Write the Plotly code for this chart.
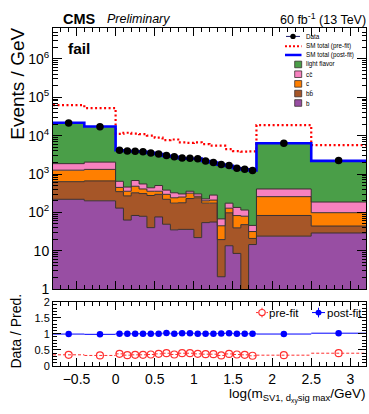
import numpy as np
import plotly.graph_objects as go

# ---- binning (log10 of secondary-vertex mass) ----
edges = [-0.8, -0.4, 0.0, 0.1, 0.2, 0.3, 0.4, 0.5, 0.6, 0.7, 0.8, 0.9,
         1.0, 1.1, 1.2, 1.3, 1.4, 1.5, 1.6, 1.7, 1.8, 2.5, 3.2]

# ---- post-fit flavour templates (events / GeV) ----
b_jets = [219, 200, 129, 63, 83, 79, 40, 76, 49, 35, 36, 36,
          22, 54, 56, 2.1, 13.5, 8.5, 0.5, 14.5, 24, 29]
bb_jets = [412, 461, 218, 206, 241, 230, 235, 219, 170, 139, 142, 193,
           218, 120, 118, 17.4, 84, 31, 47.4, 6.4, 59, 15]
c_jets = [628, 657, 100, 86, 155, 98, 80, 60, 76, 66, 73, 87,
          23, 26, 35, 25.2, 31, 43, 31.5, 10.7, 174, 54]
cc_jets = [603, 724, 199, 102, 197, 143, 82, 146, 85, 84, 51, 39,
           39, 24, 73, 22.9, 45, 52, 35.6, 14.1, 150, 88]
light_jets = [19840, 15260, 3524, 3523, 3214, 3250, 3113, 2809, 2580, 2496, 2278, 2165,
              2208, 1966, 1718, 1692, 1456, 1275, 1205, 1184, 5943, 2014]

# ---- pre-fit SM total and observed data ----
prefit_total = [62300, 52300, 11120, 11880, 11280, 11010, 10000, 8830, 7650, 7940, 6660, 6510,
                6690, 6000, 5480, 5480, 4450, 3970, 3830, 3900, 18860, 5670]
data = [21500, 17000, 4170, 3980, 3890, 3800, 3550, 3310, 3020, 2820, 2630, 2570,
        2510, 2190, 2000, 1780, 1660, 1410, 1320, 1230, 6300, 2240]

y_ticks = [1, 10, 100, 1e3, 1e4, 1e5, 1e6]
y_ticktext = ["1", "10", "10<sup>2</sup>", "10<sup>3</sup>", "10<sup>4</sup>",
              "10<sup>5</sup>", "10<sup>6</sup>"]
ratio_ticks = [0, 0.5, 1, 1.5, 2]
ratio_ticktext = ["0", "0.5", "1", "1.5", "2"]

colors = {"b": "#984ea3", "bb": "#a65628", "c": "#ff7f00", "cc": "#f781bf", "light": "#4a9e48"}
FONT = "Liberation Sans"
W, H = 369, 414


def px(x):
    return x / W


def py(y):
    return 1 - y / H


def step(v):
    v = list(v)
    return v + [v[-1]]


centers = [(lo + hi) / 2 for lo, hi in zip(edges[:-1], edges[1:])]
components = [b_jets, bb_jets, c_jets, cc_jets, light_jets]
stack = np.cumsum(np.array(components, dtype=float), axis=0)
postfit_total = stack[-1]

fig = go.Figure()

# baseline below the visible range so the bottom template fills to the frame
fig.add_trace(go.Scatter(x=edges, y=[1e-3] * len(edges), mode="lines",
                         line=dict(width=0), showlegend=False, hoverinfo="skip"))
for level, key in zip(stack, ["b", "bb", "c", "cc", "light"]):
    fig.add_trace(go.Scatter(x=edges, y=step(level), mode="lines",
                             line=dict(shape="hv", color="#3a3030", width=1),
                             fill="tonexty", fillcolor=colors[key],
                             showlegend=False, hoverinfo="skip"))

fig.add_trace(go.Scatter(x=edges, y=step(prefit_total), mode="lines",
                         line=dict(shape="hv", color="#ff0000", width=2.2, dash="2px,2.5px"),
                         showlegend=False))
fig.add_trace(go.Scatter(x=edges, y=step(postfit_total), mode="lines",
                         line=dict(shape="hv", color="#0000ff", width=2.6),
                         showlegend=False))
fig.add_trace(go.Scatter(x=centers, y=data, mode="markers",
                         marker=dict(color="black", size=7.5),
                         showlegend=False))

# ---- ratio panel ----
r_pre = np.array(data) / np.array(prefit_total)
r_post = np.array(data) / postfit_total


def segments(vals):
    xs, ys = [], []
    for lo, hi, v in zip(edges[:-1], edges[1:], vals):
        xs += [lo, hi, None]
        ys += [v, v, None]
    return xs, ys


sx, sy = segments(r_pre)
fig.add_trace(go.Scatter(x=sx, y=sy, mode="lines", xaxis="x2", yaxis="y2",
                         line=dict(color="#ff3030", width=1, dash="3px,2px"), showlegend=False))
sx, sy = segments(r_post)
fig.add_trace(go.Scatter(x=sx, y=sy, mode="lines", xaxis="x2", yaxis="y2",
                         line=dict(color="#0000ff", width=1), showlegend=False))
fig.add_trace(go.Scatter(x=centers, y=r_pre, mode="markers", xaxis="x2", yaxis="y2",
                         marker=dict(symbol="circle-open", color="#ff3030", size=7,
                                     line=dict(width=1.2)), showlegend=False))
fig.add_trace(go.Scatter(x=centers, y=r_post, mode="markers", xaxis="x2", yaxis="y2",
                         marker=dict(color="#0000ff", size=6.5), showlegend=False))

xdom = [px(53), px(366)]
axis_common = dict(showline=True, linecolor="black", linewidth=1, mirror="allticks",
                   ticks="inside", tickcolor="black", showgrid=False, zeroline=False)
log_minor = [m * 10 ** k for k in range(0, 7) for m in range(2, 10)]

fig.update_layout(
    width=W, height=H, margin=dict(l=0, r=0, t=0, b=0),
    paper_bgcolor="white", plot_bgcolor="white",
    font=dict(family=FONT, color="black"),
    xaxis=dict(domain=xdom, anchor="y", range=[-0.8, 3.2], showticklabels=False,
               tick0=0, dtick=0.5, ticklen=8,
               minor=dict(ticks="inside", ticklen=4, dtick=0.1, tick0=0, tickcolor="black"),
               **axis_common),
    yaxis=dict(domain=[py(293), py(23)], anchor="x", type="log", range=[0, 6.8],
               tickmode="array", tickvals=y_ticks, ticktext=y_ticktext, ticklen=9,
               tickfont=dict(size=14),
               minor=dict(ticks="inside", ticklen=4.5, tickvals=log_minor, tickcolor="black"),
               **axis_common),
    xaxis2=dict(domain=xdom, anchor="y2", range=[-0.8, 3.2], tick0=0, dtick=0.5, ticklen=8,
                tickfont=dict(size=14),
                minor=dict(ticks="inside", ticklen=4, dtick=0.1, tick0=0, tickcolor="black"),
                **axis_common),
    yaxis2=dict(domain=[py(372.5), py(306)], anchor="x2", range=[0, 2],
                tickmode="array", tickvals=ratio_ticks, ticktext=ratio_ticktext, ticklen=8,
                tickfont=dict(size=11),
                minor=dict(ticks="inside", ticklen=4, dtick=0.1, tick0=0, tickcolor="black"),
                **axis_common),
)

ann = []


def text(x, y, s, size, xanchor="left", yanchor="middle", angle=0):
    ann.append(dict(x=px(x), y=py(y), xref="paper", yref="paper", text=s, showarrow=False,
                    xanchor=xanchor, yanchor=yanchor, textangle=angle, borderpad=0,
                    font=dict(family=FONT, size=size, color="black")))


text(62, 13, "<b>CMS</b>", 14.5)
text(106, 13.5, "<i>Preliminary</i>", 12.5)
text(367, 13.5, "60 fb<sup>-1</sup> (13 TeV)", 12.5, xanchor="right")
text(67, 44, "<b>fail</b>", 15.5)
text(17.5, 22, "Events / GeV", 19, xanchor="center", yanchor="top", angle=-90)
text(16, 337, "Data / Pred.", 14, xanchor="center", angle=-90)
text(367, 414, "log(m<sub>SV1, d<sub>xy</sub>sig max</sub>/GeV)", 13.5,
     xanchor="right", yanchor="bottom")

# legend of the main panel
leg_font = 6.3
legend_rows = [(31.5, "Data"), (41.7, "SM total (pre-fit)"), (50.7, "SM total (post-fit)"),
               (60.5, "light flavor"), (70.6, "cc\u0304"), (80.6, "c"),
               (90.6, "bb\u0304"), (100.4, "b")]
for yy, label in legend_rows:
    text(304.5, yy, label, leg_font)

shapes = []
shapes.append(dict(type="line", xref="paper", yref="paper", x0=px(286), x1=px(300),
                   y0=py(31.5), y1=py(31.5), line=dict(color="#202070", width=1)))
shapes.append(dict(type="circle", xref="paper", yref="paper", x0=px(290.3), x1=px(295.7),
                   y0=py(34.2), y1=py(28.8), fillcolor="black", line=dict(color="black", width=0)))
shapes.append(dict(type="line", xref="paper", yref="paper", x0=px(285), x1=px(301.5),
                   y0=py(41.7), y1=py(41.7), line=dict(color="#ff0000", width=2, dash="2px,2px")))
shapes.append(dict(type="line", xref="paper", yref="paper", x0=px(285), x1=px(301.5),
                   y0=py(50.7), y1=py(50.7), line=dict(color="#0000ff", width=2.5)))
for (yy, _), key in zip(legend_rows[3:], ["light", "cc", "c", "bb", "b"]):
    shapes.append(dict(type="rect", xref="paper", yref="paper", x0=px(294.7), x1=px(301.7),
                       y0=py(yy + 3.4), y1=py(yy - 3.4), fillcolor=colors[key],
                       line=dict(color="#3a3030", width=0.8)))

# legend of the ratio panel
ry = 317.3
shapes.append(dict(type="line", xref="paper", yref="paper", x0=px(256), x1=px(268),
                   y0=py(ry), y1=py(ry), line=dict(color="#ff3030", width=1, dash="2px,1.5px")))
shapes.append(dict(type="line", xref="paper", yref="paper", x0=px(262), x1=px(262),
                   y0=py(ry + 5), y1=py(ry - 5), line=dict(color="#ff3030", width=1)))
shapes.append(dict(type="circle", xref="paper", yref="paper", x0=px(258.8), x1=px(265.2),
                   y0=py(ry + 3.2), y1=py(ry - 3.2), fillcolor="white",
                   line=dict(color="#ff3030", width=1.2)))
shapes.append(dict(type="line", xref="paper", yref="paper", x0=px(312), x1=px(325),
                   y0=py(ry), y1=py(ry), line=dict(color="#0000ff", width=1)))
shapes.append(dict(type="line", xref="paper", yref="paper", x0=px(318.5), x1=px(318.5),
                   y0=py(ry + 5), y1=py(ry - 5), line=dict(color="#0000ff", width=1)))
shapes.append(dict(type="circle", xref="paper", yref="paper", x0=px(315.5), x1=px(321.5),
                   y0=py(ry + 3), y1=py(ry - 3), fillcolor="#0000ff",
                   line=dict(color="#0000ff", width=0)))
text(267.5, ry, "pre-fit", 11.5)
text(325.5, ry, "post-fit", 11.5)

fig.update_layout(annotations=ann, shapes=shapes)
fig.write_html("out.html")
